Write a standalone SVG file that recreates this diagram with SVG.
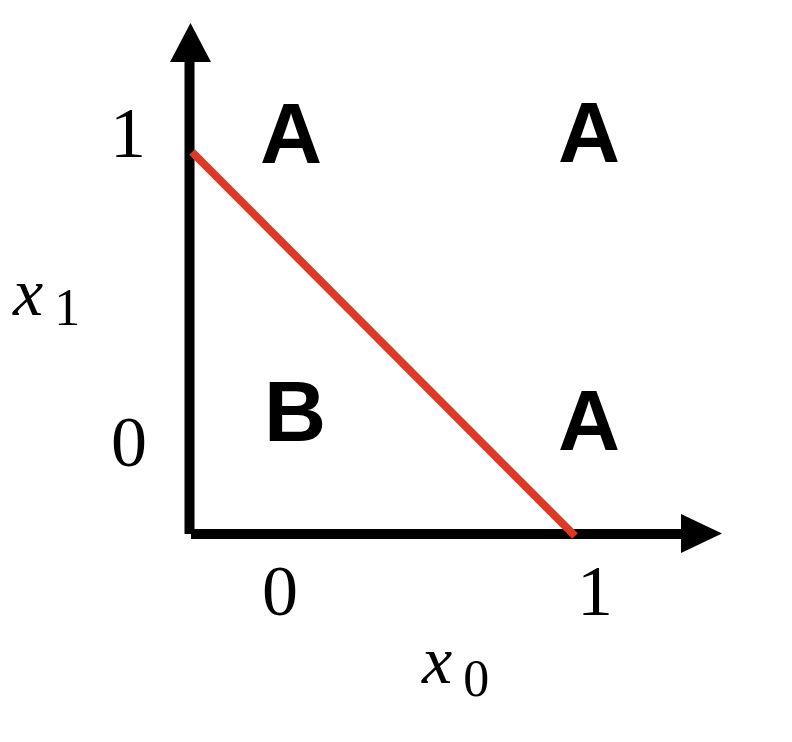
<svg xmlns="http://www.w3.org/2000/svg" width="792" height="742" viewBox="0 0 792 742">
<style>
.num{font-family:"Liberation Serif","DejaVu Serif",serif;font-size:72px;fill:#000}
.var{font-family:"Liberation Serif","DejaVu Serif",serif;font-style:italic;font-size:68px;fill:#000}
.sub{font-family:"Liberation Serif","DejaVu Serif",serif;font-size:52px;fill:#000}
.lab{font-family:"Liberation Sans",Arial,sans-serif;font-weight:bold;font-size:86px;fill:#000;text-anchor:middle}
.ax{stroke:#000;stroke-width:10;fill:none}
</style>
<rect width="792" height="742" fill="#fff"/>
<g id="axes">
<line class="ax" x1="189.5" y1="60" x2="189.5" y2="534"/>
<polygon points="190.5,23 170,62 211,62" fill="#000"/>
<line class="ax" x1="191" y1="534" x2="684" y2="534"/>
<polygon points="722,533.5 681,514 681,553" fill="#000"/>
</g>
<g id="connectors">
<line x1="192" y1="152" x2="575" y2="536" stroke="#dc3a26" stroke-width="8"/>
</g>
<g id="ticks">
<text class="num" x="128" y="157" text-anchor="middle">1</text>
<text class="num" x="129" y="466" text-anchor="middle">0</text>
<text class="num" x="280" y="615" text-anchor="middle">0</text>
<text class="num" x="595" y="615" text-anchor="middle">1</text>
</g>
<g id="axis-labels">
<text x="13" y="315"><tspan class="var">x</tspan><tspan class="sub" dx="11" dy="10">1</tspan></text>
<text x="422" y="683"><tspan class="var">x</tspan><tspan class="sub" dx="11" dy="13">0</tspan></text>
</g>
<g id="regions">
<text class="lab" x="291" y="163">A</text>
<text class="lab" x="589" y="162">A</text>
<text class="lab" x="295" y="441">B</text>
<text class="lab" x="589" y="450">A</text>
</g>
</svg>
